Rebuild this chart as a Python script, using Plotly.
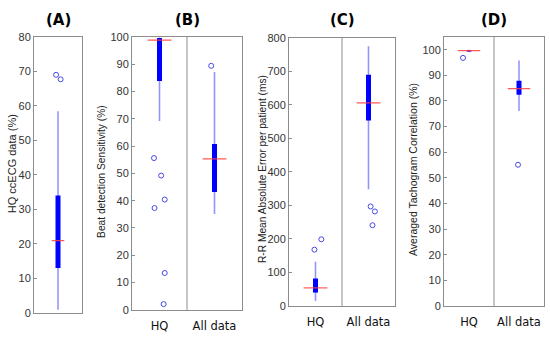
import plotly.graph_objects as go

# ---------------- data ----------------
panel_titles = ["(A)", "(B)", "(C)", "(D)"]
y_titles = ["HQ ccECG data (%)", "Beat detection Sensitivity (%)",
            "R-R Mean Absolute Error per patient (ms)", "Averaged Tachogram Correlation (%)"]
groups_A = [""]
groups_BCD = ["HQ", "All data"]

# panel A: HQ ccECG data (%)
A_wlo = [0.9];  A_q1 = [13.0]; A_med = [20.9]; A_q3 = [34.0]; A_whi = [58.4]
A_out = [[69.0, 67.7]]
A_jit = [[-0.04, 0.055]]

# panel B: Beat detection sensitivity (%)
B_wlo = [69.2, 35.1]; B_q1 = [83.8, 43.2]; B_med = [98.8, 55.3]; B_q3 = [99.6, 60.8]; B_whi = [99.8, 87.1]
B_out = [[55.6, 49.2, 40.4, 37.3, 13.5, 2.1], [89.4]]
B_jit = [[-0.10, 0.03, 0.095, -0.09, 0.095, 0.075], [-0.06]]

# panel C: R-R mean absolute error (ms)
C_wlo = [15, 348]; C_q1 = [40, 553]; C_med = [54, 606]; C_q3 = [82, 690]; C_whi = [132, 775]
C_out = [[168, 199], [297, 282, 241]]
C_jit = [[-0.02, 0.11], [0.04, 0.12, 0.075]]

# panel D: averaged tachogram correlation (%)
D_wlo = [99.0, 76.1]; D_q1 = [99.3, 82.4]; D_med = [99.6, 84.8]; D_q3 = [99.9, 87.9]; D_whi = [100.0, 95.8]
D_out = [[96.8], [55.1]]
D_jit = [[-0.12], [-0.02]]

y_ranges = [[0, 80], [0, 100], [0, 800], [0, 105]]
y_dtick = [10, 10, 100, 10]

# ---------------- layout geometry (pixels) ----------------
W, H = 550, 339
boxes_px = [(34, 82, 32, 318), (132, 242, 32, 315), (289, 395, 33, 311), (444, 544, 32, 311)]
ytitle_px = [(12, 164), (102, 172), (262, 169), (413, 170)]
ytitle_size = [11, 10.2, 10.2, 10.5]
med_size = [9, 17, 17, 16]

fig = go.Figure()

panels = [
    (groups_A, A_wlo, A_q1, A_med, A_q3, A_whi, A_out, A_jit),
    (groups_BCD, B_wlo, B_q1, B_med, B_q3, B_whi, B_out, B_jit),
    (groups_BCD, C_wlo, C_q1, C_med, C_q3, C_whi, C_out, C_jit),
    (groups_BCD, D_wlo, D_q1, D_med, D_q3, D_whi, D_out, D_jit),
]

whisker_col = "rgba(90,90,255,0.65)"
box_col = "#0000ff"
med_col = "rgba(255,60,60,0.85)"
out_col = "#4a4ae6"

annotations = []
shapes = []
for i, (groups, wlo, q1, med, q3, whi, outs, jits) in enumerate(panels):
    ax = "" if i == 0 else str(i + 1)
    xref, yref = "x" + ax, "y" + ax
    n = len(groups)
    for g in range(n):
        fig.add_trace(go.Scatter(x=[g, g], y=[wlo[g], whi[g]], mode="lines",
                                 line=dict(color=whisker_col, width=1.6),
                                 xaxis=xref, yaxis=yref, showlegend=False, hoverinfo="skip"))
        fig.add_trace(go.Scatter(x=[g, g], y=[q1[g], q3[g]], mode="lines",
                                 line=dict(color=box_col, width=5),
                                 xaxis=xref, yaxis=yref, showlegend=False, hoverinfo="skip"))
        fig.add_trace(go.Scatter(x=[g], y=[med[g]], mode="markers",
                                 marker=dict(symbol="line-ew", size=med_size[i], color=med_col,
                                             line=dict(color=med_col, width=1.2)),
                                 xaxis=xref, yaxis=yref, showlegend=False))
        fig.add_trace(go.Scatter(x=[g + j for j in jits[g]], y=outs[g], mode="markers",
                                 marker=dict(symbol="circle-open", size=5, color=out_col,
                                             line=dict(color=out_col, width=1)),
                                 xaxis=xref, yaxis=yref, showlegend=False))
    x0, x1, y0, y1 = boxes_px[i]
    xd = [x0 / W, x1 / W]
    yd = [1 - y1 / H, 1 - y0 / H]
    common = dict(showline=True, linecolor="#8c8c8c", linewidth=1, mirror=True,
                  showgrid=False, zeroline=False)
    fig.layout["xaxis" + ax] = dict(domain=xd, range=[-0.5, n - 0.5], anchor=yref,
                                    tickvals=list(range(n)) if n > 1 else [],
                                    ticktext=groups if n > 1 else [],
                                    ticks="", ticklabelstandoff=5,
                                    tickfont=dict(family="DejaVu Sans", size=11.5, color="#111"),
                                    **common)
    fig.layout["yaxis" + ax] = dict(domain=yd, range=y_ranges[i], anchor=xref, dtick=y_dtick[i],
                                    ticks="inside", ticklen=3, tickcolor="#8c8c8c",
                                    tickfont=dict(family="Liberation Sans", size=11, color="#333"),
                                    **common)
    if n > 1:
        shapes.append(dict(type="line", xref=xref, yref=yref + " domain", x0=0.5, x1=0.5,
                           y0=0, y1=1, line=dict(color="#8c8c8c", width=1)))
    annotations.append(dict(text="<b>" + panel_titles[i] + "</b>", xref="paper", yref="paper",
                            x=(x0 + x1) / 2 / W, y=1 - 14 / H, showarrow=False,
                            xanchor="center", yanchor="middle",
                            font=dict(family="DejaVu Sans", size=15, color="#000")))
    tx, ty = ytitle_px[i]
    annotations.append(dict(text=y_titles[i], xref="paper", yref="paper", x=tx / W, y=1 - ty / H,
                            showarrow=False, textangle=-90, xanchor="center", yanchor="middle",
                            font=dict(family="Liberation Sans", size=ytitle_size[i], color="#222")))

fig.update_layout(width=W, height=H, margin=dict(l=0, r=0, t=0, b=0),
                  paper_bgcolor="white", plot_bgcolor="white",
                  annotations=annotations, shapes=shapes)
fig.write_html("out.html", config={"displayModeBar": False},
               post_script="document.body.style.margin='0';")
